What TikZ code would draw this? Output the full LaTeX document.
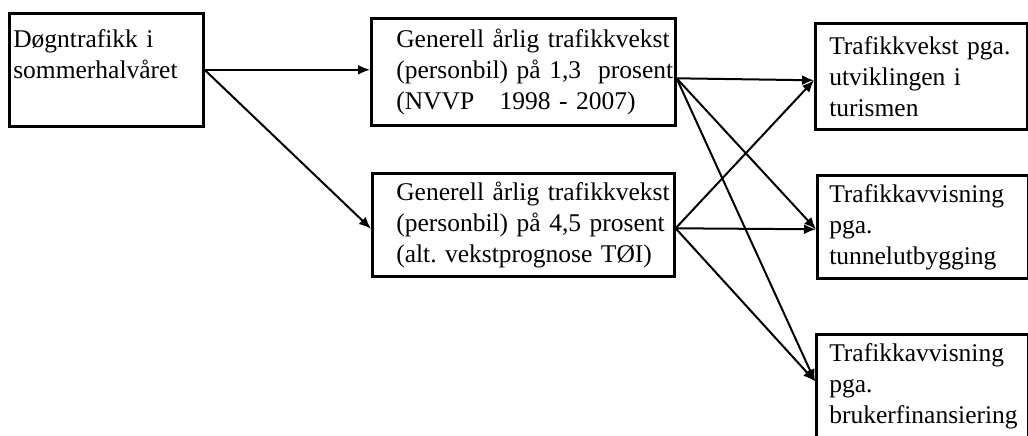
\documentclass[tikz,border=0pt]{standalone}
\usepackage{fontspec}
\setmainfont{Liberation Serif}
\usetikzlibrary{arrows.meta}
\frenchspacing
\tikzset{
  box/.style={draw, line width=2.6pt, anchor=north west, inner sep=0pt, align=left,
    font=\fontsize{25.5}{31}\selectfont},
  conn/.style={line width=2pt, -{Latex[length=12pt,width=10pt]}}
}
\newcommand{\padl}[1]{\leftskip=#1\rightskip=0pt plus 1fil\relax}
\begin{document}
\begin{tikzpicture}[x=1pt,y=-1pt]
\useasboundingbox (0,0) rectangle (1028,436);
\clip (0,0) rectangle (1028,436);
\node[box, text width=194pt, minimum height=113pt] (A) at (8,12)
  {\padl{4pt}Døgntrafikk i\\sommerhalvåret\\\mbox{}\par};
\node[box, text width=304pt, minimum height=107pt] (B) at (370,17)
  {\padl{25pt}Generell årlig trafikkvekst\\(personbil) på 1,3\ \ prosent\\(NVVP\ \ \ 1998 - 2007)\par};
\node[box, text width=302pt, minimum height=103pt] (C) at (371,172)
  {\padl{24pt}Generell årlig trafikkvekst\\(personbil) på 4,5 prosent\\(alt. vekstprognose TØI)\par};
\node[box, text width=212pt, minimum height=106pt] (D1) at (814,22)
  {\padl{14pt}Trafikkvekst pga.\\utviklingen i\\turismen\par};
\node[box, text width=211pt, minimum height=103pt] (D2) at (816,174)
  {\padl{12pt}Trafikkavvisning\\pga.\\tunnelutbygging\par};
\node[box, text width=212pt, minimum height=104pt] (D3) at (815,333)
  {\padl{13pt}Trafikkavvisning\\pga.\\brukerfinansiering\par};

\draw[conn] (A.east) -- (A.east -| B.west);
\draw[conn] (A.east) -- ([yshift=-4pt]C.west);
\draw[conn] ([yshift=-6.5pt]B.east) -- ([yshift=-4pt]D1.west);
\draw[conn] ([yshift=-6.5pt]B.east) -- ([yshift=-2.5pt]D2.west);
\draw[conn] ([yshift=-6.5pt]B.east) -- ([yshift=5pt]D3.west);
\draw[conn] ([yshift=-3.5pt]C.east) -- ([yshift=-4pt]D1.west);
\draw[conn] ([yshift=-3.5pt]C.east) -- ([yshift=-2.5pt]D2.west);
\draw[conn] ([yshift=-3.5pt]C.east) -- ([yshift=5pt]D3.west);
\end{tikzpicture}
\end{document}
